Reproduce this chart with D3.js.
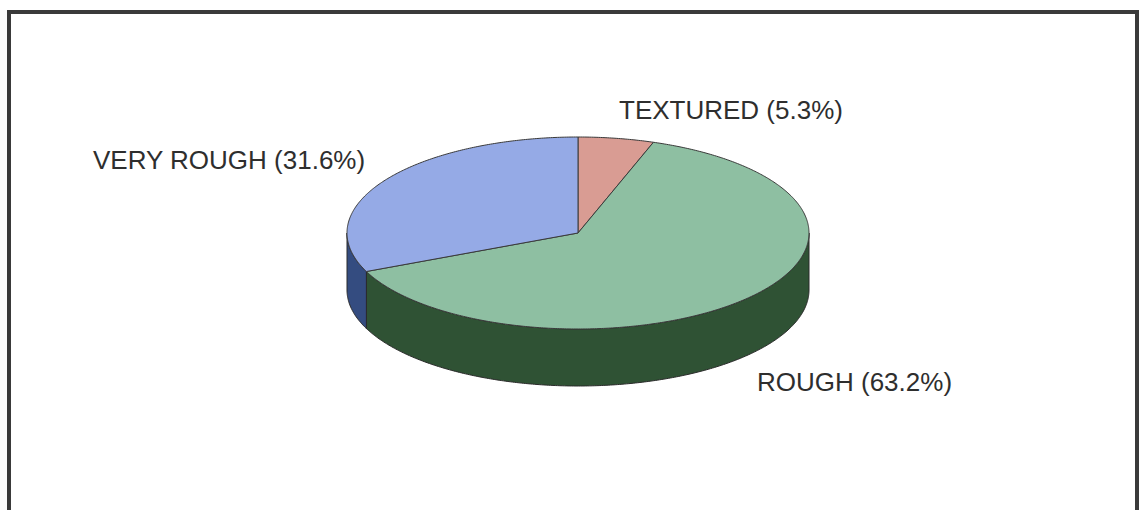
<!DOCTYPE html>
<html>
<head>
<meta charset="utf-8">
<script src="https://cdn.jsdelivr.net/npm/d3@7"></script>
<style>
  html, body { margin: 0; padding: 0; background: #fff; }
  svg { display: block; }
</style>
</head>
<body>
<svg id="chart" width="1143" height="510"></svg>
<script>
// ---- data ----
const categories = ["TEXTURED", "ROUGH", "VERY ROUGH"];
const values = [5.3, 63.2, 31.6];
const labels = ["TEXTURED (5.3%)", "ROUGH (63.2%)", "VERY ROUGH (31.6%)"];
const topColors = ["#d99c93", "#8ebfa2", "#95aae6"];
const sideColors = ["#7a4a44", "#2f5234", "#344c80"];

// ---- layout ----
const W = 1143, H = 510;
const cx = 578, cy = 233, rx = 231, ry = 96, depth = 57;

const svg = d3.select("#chart");

// frame
svg.append("rect")
  .attr("x", 9).attr("y", 12)
  .attr("width", 1128).attr("height", 520)
  .attr("fill", "none").attr("stroke", "#3a3a3a").attr("stroke-width", 4);

const pie = d3.pie().sort(null).value(d => d).startAngle(0).endAngle(2 * Math.PI);
const arcs = pie(values);

// elliptical projection scales (unit circle -> screen)
const sx = d3.scaleLinear().domain([-1, 1]).range([cx - rx, cx + rx]);
const sy = d3.scaleLinear().domain([-1, 1]).range([cy - ry, cy + ry]);

function pt(a, dy) { return [sx(Math.sin(a)), sy(-Math.cos(a)) + (dy || 0)]; }
function arcPts(a0, a1, dy) {
  const n = Math.max(2, Math.ceil(Math.abs(a1 - a0) / 0.01));
  const out = [];
  for (let i = 0; i <= n; i++) out.push(pt(a0 + (a1 - a0) * i / n, dy));
  return out;
}
const line = d3.line();

// side faces (visible front half: angles PI/2 .. 3PI/2)
arcs.forEach((d, i) => {
  const a0 = Math.max(d.startAngle, Math.PI / 2);
  const a1 = Math.min(d.endAngle, 3 * Math.PI / 2);
  if (a1 <= a0) return;
  const top = arcPts(a0, a1, 0);
  const bot = arcPts(a1, a0, depth);
  svg.append("path")
    .attr("d", line(top.concat(bot)) + "Z")
    .attr("fill", sideColors[i])
    .attr("stroke", "#2a2a2a").attr("stroke-width", 1).attr("stroke-linejoin", "round");
});

// top faces
arcs.forEach((d, i) => {
  const pts = [[cx, cy]].concat(arcPts(d.startAngle, d.endAngle, 0));
  svg.append("path")
    .attr("d", line(pts) + "Z")
    .attr("fill", topColors[i])
    .attr("stroke", "#3a3a3a").attr("stroke-width", 1).attr("stroke-linejoin", "round");
});

// labels
const labelPos = [[619, 119], [757, 391], [93, 169]];
labels.forEach((t, i) => {
  svg.append("text")
    .attr("x", labelPos[i][0]).attr("y", labelPos[i][1])
    .attr("font-family", "Liberation Sans, Arial, sans-serif")
    .attr("font-size", 26)
    .attr("fill", "#2e2e2e")
    .text(t);
});
</script>
</body>
</html>
